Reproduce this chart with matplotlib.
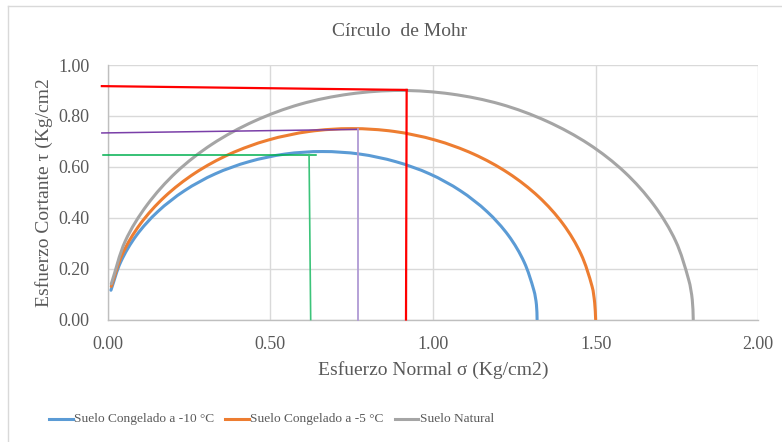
import matplotlib
matplotlib.use("Agg")
import numpy as np
import matplotlib.pyplot as plt
from matplotlib.lines import Line2D
from matplotlib.path import Path
from matplotlib.patches import PathPatch

# ---- data (points along each Mohr semicircle) ----
blue_sigma = [0.010, 0.040, 0.088, 0.154, 0.236, 0.330, 0.434, 0.545, 0.660,
              0.775, 0.886, 0.990, 1.084, 1.166, 1.232, 1.280, 1.310, 1.318, 1.320]
blue_tau = [0.115, 0.226, 0.330, 0.424, 0.506, 0.572, 0.620, 0.650, 0.660,
            0.650, 0.620, 0.572, 0.506, 0.424, 0.330, 0.226, 0.115, 0.058, 0.0]

orange_sigma = [0.011, 0.045, 0.100, 0.175, 0.268, 0.375, 0.493, 0.620, 0.750,
                0.880, 1.007, 1.125, 1.232, 1.325, 1.400, 1.455, 1.489, 1.497, 1.500]
orange_tau = [0.130, 0.257, 0.375, 0.482, 0.575, 0.650, 0.705, 0.739, 0.750,
              0.739, 0.705, 0.650, 0.575, 0.482, 0.375, 0.257, 0.130, 0.065, 0.0]

gray_sigma = [0.011, 0.054, 0.121, 0.211, 0.321, 0.450, 0.592, 0.744, 0.900,
              1.056, 1.208, 1.350, 1.479, 1.589, 1.679, 1.746, 1.786, 1.797, 1.800]
gray_tau = [0.140, 0.308, 0.450, 0.579, 0.689, 0.779, 0.846, 0.886, 0.900,
            0.886, 0.846, 0.779, 0.689, 0.579, 0.450, 0.308, 0.156, 0.078, 0.0]

series_labels = ["Suelo Congelado a -10 °C", "Suelo Congelado a -5 °C", "Suelo Natural"]
series_colors = ["#5B9BD5", "#ED7D31", "#A5A5A5"]

# guide lines: (x_left, y_left, x_corner, y_corner, x_bottom)
red_guide = [-0.018, 0.917, 0.919, 0.902, 0.917]
purple_guide = [-0.018, 0.733, 0.769, 0.747, 0.769]
green_guide = [-0.015, 0.648, 0.639, 0.648, 0.624]
green_vert_top_x = 0.619

x_ticks = [0.0, 0.5, 1.0, 1.5, 2.0]
y_ticks = [0.0, 0.2, 0.4, 0.6, 0.8, 1.0]


def smooth_path(xs, ys, sx=326.0, sy=255.0):
    """Smoothed line through the points (chord-length Catmull-Rom drawn as cubic Beziers)."""
    P = np.column_stack([xs, ys]).astype(float)
    D = P * np.array([sx, sy])
    n = len(P)
    t = np.concatenate([[0.0], np.cumsum(np.hypot(*np.diff(D, axis=0).T))])
    M = np.zeros_like(P)
    M[0] = (P[1] - P[0]) / (t[1] - t[0])
    M[-1] = (P[-1] - P[-2]) / (t[-1] - t[-2])
    for i in range(1, n - 1):
        M[i] = (P[i + 1] - P[i - 1]) / (t[i + 1] - t[i - 1])
    verts = [P[0]]
    codes = [Path.MOVETO]
    for i in range(n - 1):
        dt = t[i + 1] - t[i]
        verts += [P[i] + M[i] * dt / 3.0, P[i + 1] - M[i + 1] * dt / 3.0, P[i + 1]]
        codes += [Path.CURVE4] * 3
    return Path(verts, codes)


# ---- figure ----
W, H = 782, 442
fig = plt.figure(figsize=(W / 100, H / 100), dpi=100)
plt.rcParams['font.family'] = ['Liberation Serif', 'DejaVu Serif']
txt = "#595959"

ax = fig.add_axes([107.7 / W, 1 - 319.5 / H, (758.3 - 107.7) / W, (319.5 - 65) / H])
ax.set_xlim(0, 2)
ax.set_ylim(0, 1)
ax.set_xticks(x_ticks)
ax.set_yticks(y_ticks)
ax.set_xticklabels([f"{v:.2f}" for v in x_ticks])
ax.set_yticklabels([f"{v:.2f}" for v in y_ticks])
ax.tick_params(axis="x", length=0, labelsize=13, colors=txt, pad=12)
ax.tick_params(axis="y", length=0, labelsize=13, colors=txt, pad=13)
ax.grid(True, color="#D9D9D9", lw=1)
ax.set_axisbelow(True)
for s in ["top", "right"]:
    ax.spines[s].set_visible(False)
for s in ["left", "bottom"]:
    ax.spines[s].set_color("#BFBFBF")
    ax.spines[s].set_linewidth(1)

for xs, ys, c in zip([blue_sigma, orange_sigma, gray_sigma],
                     [blue_tau, orange_tau, gray_tau], series_colors):
    ax.add_patch(PathPatch(smooth_path(xs, ys), facecolor="none", edgecolor=c,
                           lw=2.2, capstyle="round", zorder=3))

# guide lines
r = red_guide
ax.plot([r[0], r[2]], [r[1], r[3]], color="#FF0000", lw=1.6, clip_on=False, zorder=4)
ax.plot([r[2], r[4]], [r[3], 0], color="#FF0000", lw=1.6, clip_on=False, zorder=4)
p = purple_guide
ax.plot([p[0], p[2]], [p[1], p[3]], color="#7A3FA8", lw=1.1, clip_on=False, zorder=4)
ax.plot([p[2], p[4]], [p[3], 0], color="#B09AD4", lw=1.3, clip_on=False, zorder=4)
g = green_guide
ax.plot([g[0], g[2]], [g[1], g[3]], color="#00B050", lw=1.1, clip_on=False, zorder=4)
ax.plot([green_vert_top_x, g[4]], [g[3], 0], color="#3CC47A", lw=1.2, clip_on=False, zorder=4)

ax.set_xlabel("Esfuerzo Normal σ (Kg/cm2)", fontsize=14, color=txt, labelpad=6)
ax.set_ylabel("Esfuerzo Cortante τ (Kg/cm2", fontsize=14, color=txt, labelpad=4)

fig.text(400 / W, 1 - 31 / H, "Círculo  de Mohr", ha="center", va="center",
         fontsize=14, color=txt)

# legend (placed manually)
leg_y = 1 - 419 / H
handle_x = [(49, 73), (225, 249), (395, 418)]
text_x = [74, 250, 420]
for (x0, x1), tx, lab, c in zip(handle_x, text_x, series_labels, series_colors):
    fig.add_artist(Line2D([x0 / W, x1 / W], [leg_y, leg_y], color=c, lw=2.2))
    fig.text(tx / W, leg_y, lab, ha="left", va="center", fontsize=9.6, color=txt)

# chart-area border (top and left visible)
fig.add_artist(Line2D([8 / W, 1], [1 - 5.5 / H, 1 - 5.5 / H], color="#D9D9D9", lw=1))
fig.add_artist(Line2D([8 / W, 8 / W], [0, 1 - 5.5 / H], color="#D9D9D9", lw=1))

fig.savefig("out.png", dpi=100)
